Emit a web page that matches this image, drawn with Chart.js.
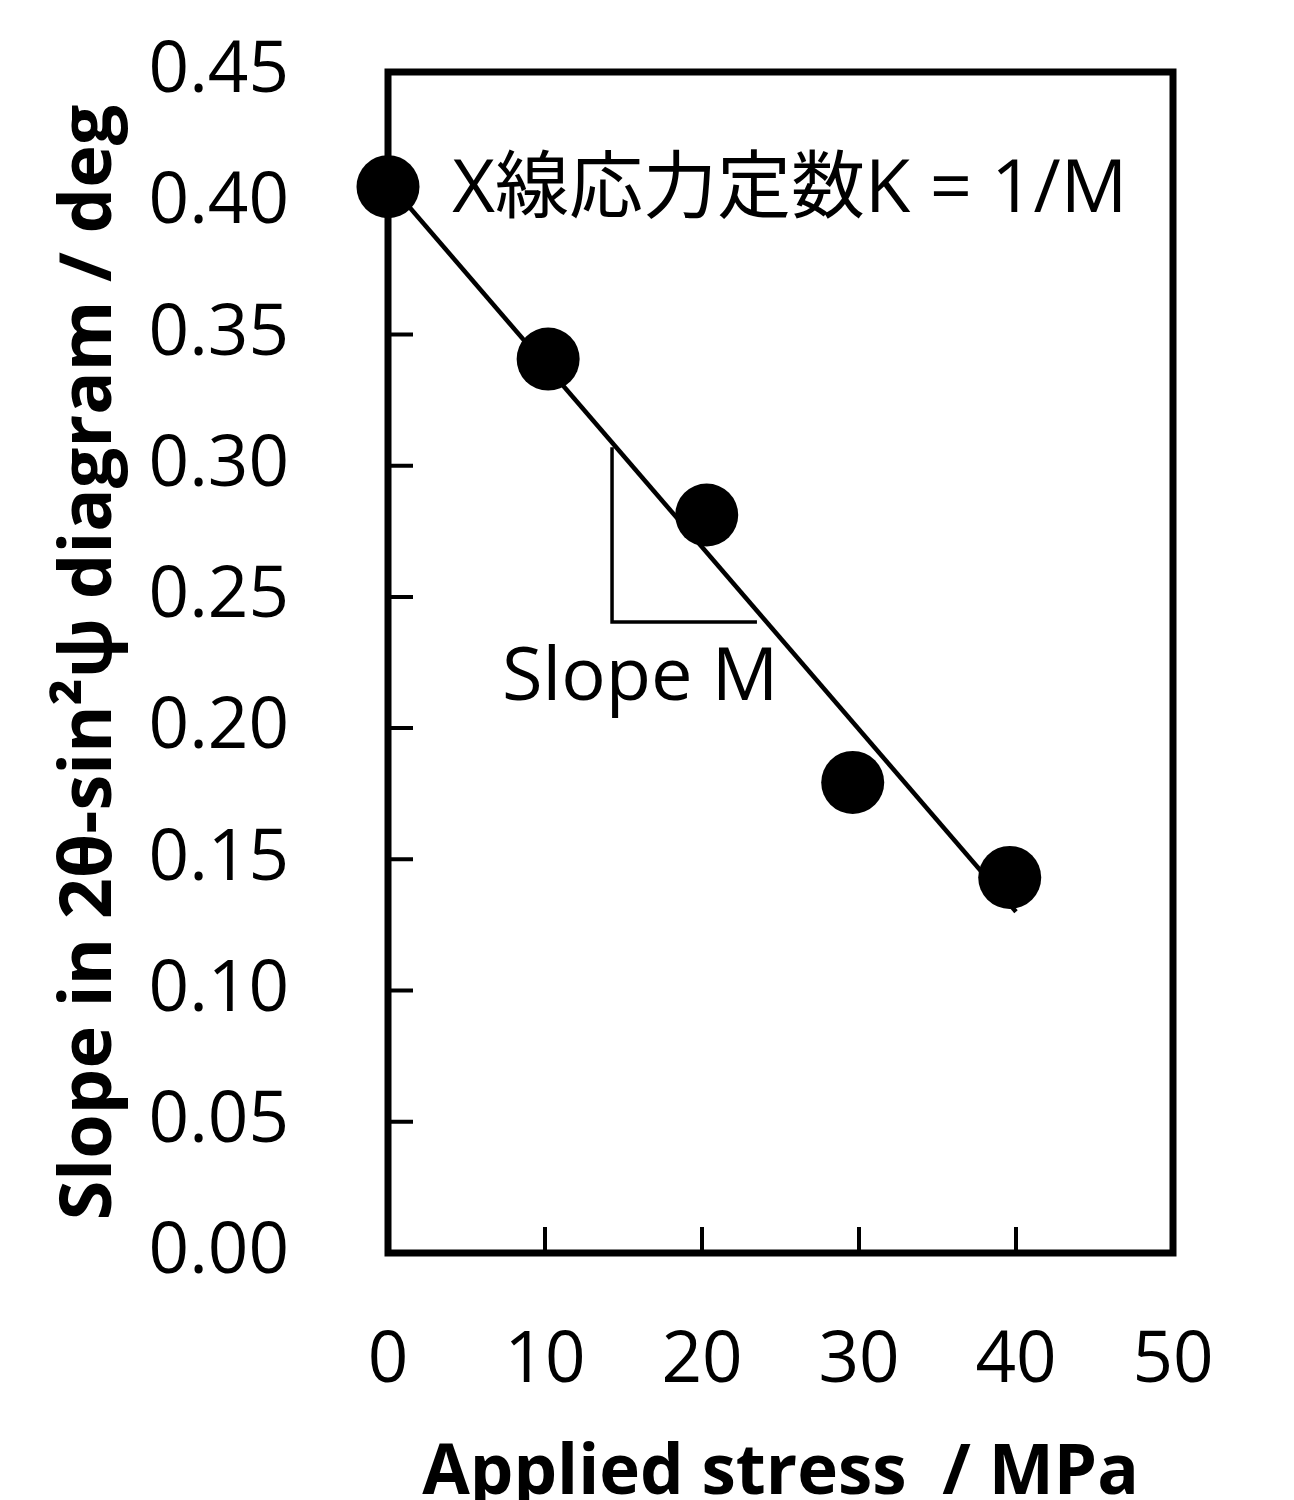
<!DOCTYPE html>
<html lang="ja">
<head>
<meta charset="utf-8">
<title>Slope vs applied stress</title>
<script src="https://cdn.jsdelivr.net/npm/chart.js@4.4.1/dist/chart.umd.min.js"></script>
<style>
  html, body { margin: 0; padding: 0; background: #fff; }
  #wrap { width: 1294px; height: 1500px; }
</style>
</head>
<body>
<div id="wrap"><canvas id="slopeChart" width="1294" height="1500"></canvas></div>
<script>
/* ── DATA ─────────────────────────────────── */
const stressMPa   = [0, 10.2, 20.3, 29.6, 39.6];
const slopeDeg    = [0.4063, 0.3406, 0.2812, 0.1793, 0.1431];

const fitX        = [0, 40];
const fitY        = [0.408, 0.130];

const triX        = [14.27, 14.27, 23.5];
const triY        = [0.307, 0.2404, 0.2404];

const xTicks      = [0, 10, 20, 30, 40, 50];
const yTicks      = [0, 0.05, 0.10, 0.15, 0.20, 0.25, 0.30, 0.35, 0.40, 0.45];

const labelConst  = { text: 'X線応力定数K = 1/M', x: 4.1,  y: 0.3966 };
const labelSlope  = { text: 'Slope M',            x: 7.26, y: 0.2107 };

const xTitle = 'Applied stress  / MPa';
const yTitle = 'Slope in 2θ-sin²ψ diagram / deg';

(function initChart() {
  'use strict';

  const FONT = "'Open Sans', 'Noto Sans CJK JP', sans-serif";
  Chart.defaults.font.family = FONT;
  Chart.defaults.color = '#000';

  const pts = (xs, ys) => xs.map((x, i) => ({ x, y: ys[i] }));

  /* ── FRAME + INWARD TICKS ──────────────────── */
  const framePlugin = {
    id: 'frame',
    beforeDatasetsDraw(chart) {
      const { ctx, chartArea: a, scales } = chart;
      ctx.save();
      ctx.strokeStyle = '#000';
      ctx.lineWidth = 7;
      ctx.lineJoin = 'miter';
      ctx.strokeRect(a.left, a.top, a.right - a.left, a.bottom - a.top);

      ctx.lineWidth = 4;
      ctx.beginPath();
      yTicks.slice(1, -1).forEach(v => {
        const py = scales.y.getPixelForValue(v);
        ctx.moveTo(a.left, py);
        ctx.lineTo(a.left + 25, py);
      });
      xTicks.slice(1, -1).forEach(v => {
        const px = scales.x.getPixelForValue(v);
        ctx.moveTo(px, a.bottom);
        ctx.lineTo(px, a.bottom - 26);
      });
      ctx.stroke();
      ctx.restore();
    }
  };

  /* ── TEXT NOTES ────────────────────────────── */
  const notePlugin = {
    id: 'notes',
    afterDatasetsDraw(chart) {
      const { ctx, scales } = chart;
      ctx.save();
      ctx.fillStyle = '#000';
      ctx.textAlign = 'left';
      ctx.textBaseline = 'alphabetic';
      ctx.font = `74px ${FONT}`;
      [labelConst, labelSlope].forEach(n => {
        ctx.fillText(n.text, scales.x.getPixelForValue(n.x), scales.y.getPixelForValue(n.y));
      });
      ctx.restore();
    }
  };

  new Chart(document.getElementById('slopeChart'), {
    type: 'scatter',
    data: {
      datasets: [
        {
          label: 'measured',
          data: pts(stressMPa, slopeDeg),
          pointRadius: 31.5,
          pointHoverRadius: 31.5,
          backgroundColor: '#000',
          borderColor: '#000',
          borderWidth: 0,
          showLine: false,
          clip: false,
          order: 0
        },
        {
          label: 'fit',
          type: 'line',
          data: pts(fitX, fitY),
          borderColor: '#000',
          borderWidth: 4.5,
          pointRadius: 0,
          fill: false,
          tension: 0,
          clip: false,
          order: 1
        },
        {
          label: 'triangle',
          type: 'line',
          data: pts(triX, triY),
          borderColor: '#000',
          borderWidth: 3.5,
          borderJoinStyle: 'miter',
          pointRadius: 0,
          fill: false,
          tension: 0,
          order: 2
        }
      ]
    },
    options: {
      responsive: false,
      devicePixelRatio: 1,
      animation: false,
      events: [],
      layout: { padding: { top: 72, right: 121, left: 0, bottom: 0 } },
      plugins: { legend: { display: false }, tooltip: { enabled: false } },
      scales: {
        x: {
          type: 'linear',
          min: 0, max: 50,
          afterBuildTicks: s => { s.ticks = xTicks.map(v => ({ value: v })); },
          afterFit: s => { s.height = 247; s.paddingLeft = 0; s.paddingRight = 0; },
          grid: { display: false, drawTicks: false },
          border: { display: false },
          ticks: { font: { size: 71 }, color: '#000', padding: 66, maxRotation: 0 },
          title: {
            display: true, text: xTitle, color: '#000',
            font: { size: 69, weight: 'bold', lineHeight: 0.75 },
            padding: 0
          }
        },
        y: {
          type: 'linear',
          min: 0, max: 0.45,
          afterBuildTicks: s => { s.ticks = yTicks.map(v => ({ value: v })); },
          afterFit: s => { s.width = 388; s.paddingTop = 0; s.paddingBottom = 0; },
          grid: { display: false, drawTicks: false },
          border: { display: false },
          ticks: {
            font: { size: 71 }, color: '#000', padding: 99,
            callback: v => Number(v).toFixed(2)
          },
          title: {
            display: true, text: yTitle, color: '#000',
            font: { size: 72, weight: 'bold', lineHeight: 1 },
            padding: { top: 54, bottom: 0 }
          }
        }
      }
    },
    plugins: [framePlugin, notePlugin]
  });
})();
</script>
</body>
</html>
